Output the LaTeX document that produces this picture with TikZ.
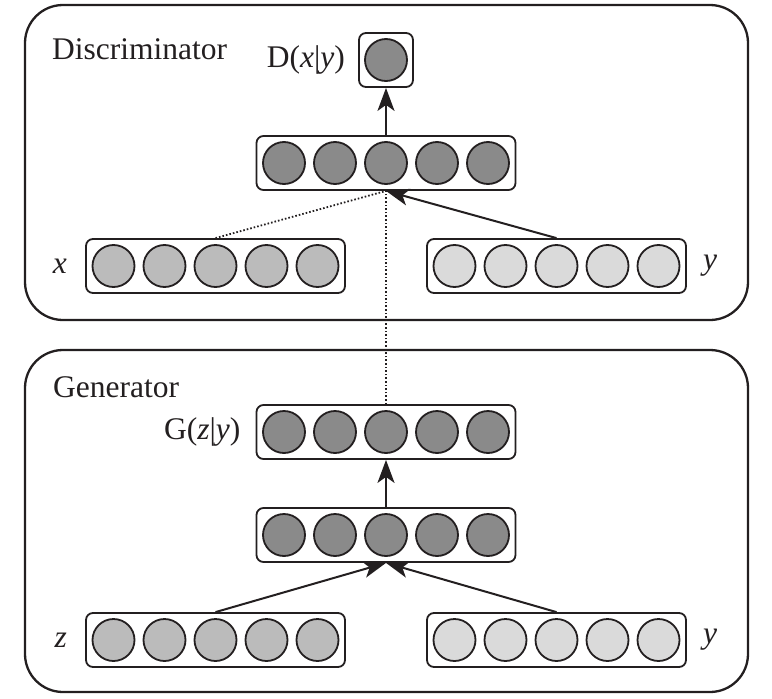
\documentclass[tikz,border=0pt]{standalone}
\usepackage{fontspec}
\setmainfont{Liberation Serif}
\definecolor{hidgray}{RGB}{138, 138, 138}
\definecolor{ingray}{RGB}{187, 187, 187}
\definecolor{condgray}{RGB}{218, 218, 218}
\definecolor{inkblack}{RGB}{35, 31, 32}
\usetikzlibrary{arrows.meta, positioning, calc}

% one layer: five units in a rounded box
\newcommand{\nnrow}[3]{%
  \node[rowbox] (#1) at #2 {};
  \foreach \k in {-2,...,2} {
    \draw[unit, fill=#3] ([xshift=\k*51pt]#1.center) circle (21pt);
  }
}

\begin{document}
\begin{tikzpicture}[x=1pt, y=-1pt,
    panel/.style={draw=inkblack, line width=2.3pt, rounded corners=38pt, minimum width=723pt},
    rowbox/.style={draw=inkblack, line width=1.8pt, rounded corners=7pt, minimum width=259pt, minimum height=54pt},
    unit/.style={draw=inkblack, line width=1.8pt},
    conn/.style={draw=inkblack, line width=2pt, -{Stealth[length=23pt, width=17pt, inset=6pt]}},
    dotline/.style={draw=inkblack, line width=1.8pt, dash pattern=on 1.6pt off 2pt},
    lbl/.style={font=\fontsize{31.5}{38}\selectfont, text=inkblack, inner sep=0pt}]
  \useasboundingbox (0,0) rectangle (772,699);

  % --- Discriminator ---
  \node[panel, minimum height=315pt] (disc) at (386.5,162.5) {};
  \node[lbl, anchor=base west] (disctitle) at (52,59) {Discriminator};
  \node[rowbox, minimum width=54pt] (dout) at (386,60) {};
  \draw[unit, fill=hidgray] (dout.center) circle (21pt);
  \node[lbl, left=13pt of dout] (doutlbl) {D(\textit{x}|\textit{y})};
  \nnrow{dhid}{(386,163)}{hidgray}
  \nnrow{xin}{(215.5,266)}{ingray}
  \nnrow{yin}{(556.5,266)}{condgray}
  \node[lbl, left=18pt of xin] (xlbl) {\textit{x}};
  \node[lbl, right=16pt of yin] (ylbl) {\textit{y}};

  % --- Generator ---
  \node[panel, minimum height=342pt] (gen) at (386.5,521) {};
  \node[lbl, anchor=base west] (gentitle) at (53,397) {Generator};
  \nnrow{gout}{(386,432)}{hidgray}
  \node[lbl, left=15pt of gout] (goutlbl) {G(\textit{z}|\textit{y})};
  \nnrow{ghid}{(386,535)}{hidgray}
  \nnrow{zin}{(215.5,640)}{ingray}
  \nnrow{gyin}{(556.5,640)}{condgray}
  \node[lbl, left=18pt of zin] (zlbl) {\textit{z}};
  \node[lbl, right=16pt of gyin] (gylbl) {\textit{y}};

  % --- connections ---
  \draw[conn] (dhid.north) -- (dout.south);
  \draw[conn] (yin.north) -- (dhid.south);
  \draw[dotline] (xin.north) -- (dhid.south);
  \draw[dotline] (gout.north) -- (dhid.south);
  \draw[conn] (ghid.north) -- (gout.south);
  \draw[conn] (zin.north) -- (ghid.south);
  \draw[conn] (gyin.north) -- (ghid.south);
\end{tikzpicture}
\end{document}
